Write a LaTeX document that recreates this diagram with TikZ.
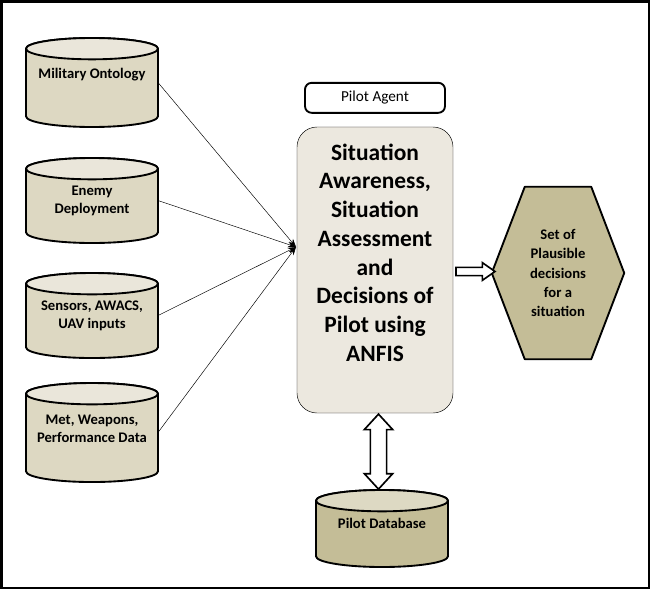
\documentclass[tikz,border=0pt]{standalone}
\usepackage{fontspec}
\setmainfont{Carlito}
\usetikzlibrary{shapes.geometric, shapes.arrows, arrows.meta, positioning, backgrounds, calc}

\definecolor{storebody}{HTML}{DDD8C2}
\definecolor{storetop}{HTML}{EAE6DA}
\definecolor{agentfill}{HTML}{ECE8DF}
\definecolor{khaki}{HTML}{C4BD97}
\definecolor{khakitop}{HTML}{DDD9C3}

\begin{document}
\begin{tikzpicture}[
    x=0.03cm, y=-0.03cm,
    store/.style={rectangle, outer sep=0pt, inner sep=0pt, minimum width=3.96cm, minimum height=2.55cm, align=center, font=\bfseries\fontsize{12.5}{15.4}\selectfont},
    can/.style={draw=black, line width=1.6pt, line join=round},
    agent/.style={rectangle, rounded corners=0.6cm, draw=black, thin, fill=agentfill, minimum width=4.68cm, minimum height=8.58cm, align=center, text depth=30pt, font=\bfseries\fontsize{20}{24.5}\selectfont},
    tag/.style={rectangle, rounded corners=0.2cm, draw=black, line width=1.6pt, fill=white, minimum width=4.2cm, minimum height=0.9cm, font=\fontsize{13}{15}\selectfont},
    outcome/.style={rectangle, minimum width=3.96cm, minimum height=5.16cm, align=center, font=\bfseries\fontsize{12.5}{16.4}\selectfont},
    feed/.style={-{Stealth[length=7pt, width=5pt]}, thin},
    fatarrow/.style={draw=black, line width=1.4pt, fill=white, inner xsep=0pt},
    node distance=0.9cm
]

\useasboundingbox (0,0) rectangle (652,590);
\draw[line width=2.5pt] (1.5,1.5) rectangle (649,588);

% Inputs
\node[store, minimum height=2.67cm, text depth=16pt] (ontology) at (92,82.5) {Military Ontology};
\node[store, below=0.93cm of ontology] (enemy) {Enemy\\Deployment};
\node[store, below=of enemy] (sensors) {Sensors, AWACS,\\UAV inputs};
\node[store, below=0.75cm of sensors, minimum height=2.97cm, text depth=7pt] (weapons) {Met, Weapons,\\Performance Data};

% Agent
\node[agent] (pilot) at (375,270) {Situation\\Awareness,\\Situation\\Assessment\\and\\Decisions of\\Pilot using\\ANFIS};
\node[tag, above=0.39cm of pilot] (title) {Pilot Agent};

\node[outcome] (decide) at (558,273) {Set of\\Plausible\\decisions\\for a\\situation};

\node[store, minimum height=2.31cm, text depth=9pt] (db) at (382,528.5) {Pilot Database};

% Shapes behind the texts
\begin{scope}[on background layer]
\draw[can, fill=khaki] ([xshift=0.99cm]decide.north west) -- ([xshift=-0.99cm]decide.north east) -- (decide.east) -- ([xshift=-0.99cm]decide.south east) -- ([xshift=0.99cm]decide.south west) -- (decide.west) -- cycle;
\foreach \n/\body/\lid in {ontology/storebody/storetop, enemy/storebody/storetop, sensors/storebody/storetop, weapons/storebody/storetop, db/khaki/khakitop} {
  \draw[can, fill=\body] ([yshift=-0.32cm]\n.north west) -- ([yshift=0.32cm]\n.south west)
    arc[start angle=180, end angle=360, x radius=1.98cm, y radius=0.32cm]
    -- ([yshift=-0.32cm]\n.north east)
    arc[start angle=0, end angle=180, x radius=1.98cm, y radius=0.32cm] -- cycle;
  \draw[can, fill=\lid] ([yshift=-0.32cm]\n.north) ellipse[x radius=1.98cm, y radius=0.32cm];
}
\end{scope}

% Arrows
\coordinate (hub) at (296,247);
\draw[feed] (ontology.east) -- (hub);
\draw[feed] (enemy.east) -- (hub);
\draw[feed] (sensors.east) -- (hub);
\draw[feed] (weapons.east) -- (hub);

\node[fatarrow, single arrow, inner ysep=0.1cm, minimum height=1.17cm, single arrow head extend=0.14cm, single arrow tip angle=70] (push) at ($(pilot.east)!0.5!(decide.west)$) {};
\node[fatarrow, double arrow, rotate=90, inner ysep=0.22cm, minimum height=2.25cm, double arrow head extend=0.18cm, double arrow tip angle=85] (link) at ($(pilot.south)!0.5!(db.north)$) {};

\end{tikzpicture}
\end{document}
